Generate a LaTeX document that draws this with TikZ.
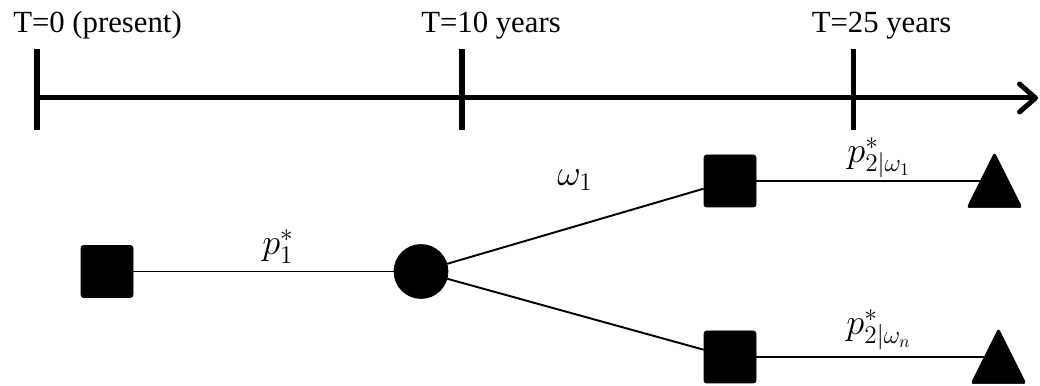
\documentclass[tikz,border=0pt]{standalone}
\usepackage{fontspec}
\setmainfont{Liberation Serif}
\usetikzlibrary{arrows.meta, positioning, shapes.geometric, calc}

\begin{document}
\begin{tikzpicture}[
  font=\fontsize{17.5}{20}\selectfont,
  tline/.style={line width=2.85pt},
  tick/.style={line width=2.85pt},
  decision/.style={draw, fill=black, rounded corners=1.5pt,
                   minimum size=1.04cm, inner sep=0pt},
  chance/.style={circle, draw, fill=black, minimum size=1.08cm, inner sep=0pt},
  terminal/.style={isosceles triangle, isosceles triangle stretches,
                   shape border rotate=90, draw, fill=black,
                   rounded corners=1.5pt, minimum width=1.1cm,
                   minimum height=1.1cm, inner sep=0pt, anchor=lower side},
  branch/.style={line width=1.1pt},
  lbl/.style={inner sep=0pt},
  mlbl/.style={inner sep=0pt, font=\fontsize{20}{24}\selectfont}
]
  \useasboundingbox (0,0) rectangle (20.8,7.72);

  % time axis
  \coordinate (t0) at (0.74,5.76);
  \coordinate (t10) at (9.24,5.76);
  \coordinate (t25) at (17.06,5.76);
  \coordinate (tend) at (20.76,5.76);
  \draw[tline, -{Straight Barb[length=3.2mm, width=5.6mm, round]}] (t0) -- (tend);
  \foreach \t in {t0, t10, t25}
    \draw[tick] ($(\t)+(0,0.98)$) -- ($(\t)+(0,-0.64)$);

  \node[lbl, anchor=base] (lab0) at (1.95,7.06) {T=0 (present)};
  \node[lbl, anchor=base] (lab10) at (9.82,7.06) {T=10 years};
  \node[lbl, anchor=base] (lab25) at (17.63,7.06) {T=25 years};

  % tree
  \node[decision] (d1) at (2.14,2.29) {};
  \node[chance] (c1) at (8.42,2.29) {};
  \node[decision] (d2a) at (14.6,4.10) {};
  \node[decision] (d2n) at (14.6,0.58) {};
  \node[terminal] (ea) at (19.89,3.56) {};
  \node[terminal] (en) at (19.97,0.04) {};

  \draw[branch] (d1) -- (c1);
  \draw[branch] (c1) -- (d2a);
  \draw[branch] (c1) -- (d2n);
  \draw[branch] (d2a) -- (d2a -| ea.left side);
  \draw[branch] (d2n) -- (d2n -| en.left side);

  \node[mlbl] (p1) at (5.56,2.78) {$p_1^{*}$};
  \node[mlbl] (w1) at (11.5,4.12) {$\omega_1$};
  \node[mlbl] (p2a) at (17.58,4.56) {$p^{*}_{2|\omega_1}$};
  \node[mlbl] (p2n) at (17.58,1.12) {$p^{*}_{2|\omega_n}$};
\end{tikzpicture}
\end{document}
